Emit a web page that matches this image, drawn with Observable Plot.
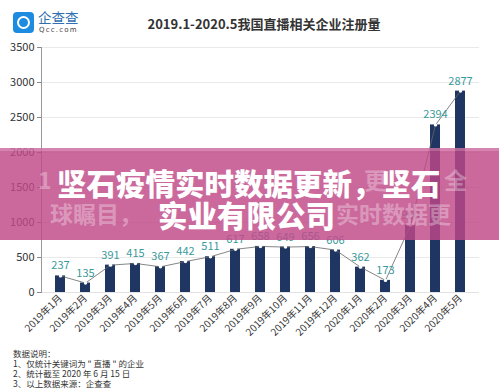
<!DOCTYPE html>
<html><head><meta charset="utf-8">
<script src="https://cdn.jsdelivr.net/npm/d3@7"></script>
<script src="https://cdn.jsdelivr.net/npm/@observablehq/plot@0.6"></script>
<style>
body{margin:0;background:#fff;font-family:"Noto Sans CJK SC","Noto Sans",sans-serif;}
#wrap{position:relative;width:499px;height:392px;overflow:hidden;background:#fff;}
#chart{position:absolute;left:0;top:0;}
#logoBox{position:absolute;left:13px;top:12px;width:21px;height:21px;border-radius:4px;background:#1d8ce0;}
#logoRing{position:absolute;left:4px;top:4px;width:9px;height:9px;border:2.5px solid #fff;border-radius:50%;}
#logoTxt{position:absolute;left:38px;top:9px;font-size:13.5px;color:#2f6fb0;letter-spacing:0px;line-height:17px;}
#logoSub{position:absolute;left:39px;top:26px;font-size:7px;color:#444;letter-spacing:1.2px;line-height:8px;font-family:"DejaVu Sans",sans-serif;}
#title{position:absolute;left:0;width:528px;top:15px;text-align:center;font-size:13px;font-weight:bold;color:#333;line-height:18px;}
#notes{position:absolute;left:13px;top:348px;font-size:8.5px;line-height:10px;color:#333;}
#banner{position:absolute;left:0;top:148px;width:499px;height:92px;background:rgba(192,72,136,0.82);}
#bannerTop{position:absolute;left:0;top:0;width:499px;height:3px;background:rgba(255,255,255,0.18);}
.faint{position:absolute;white-space:nowrap;font-weight:bold;color:rgba(255,255,255,0.32);font-size:23px;line-height:26px;}
.main{position:absolute;white-space:nowrap;font-weight:900;color:#fff;font-size:29.5px;line-height:32px;}
</style></head><body>
<div id="wrap">
  <div id="chart"></div>
  <div id="logoBox"><div id="logoRing"></div></div>
  <div id="logoTxt">企查查</div>
  <div id="logoSub">Qcc.com</div>
  <div id="title">2019.1-2020.5我国直播相关企业注册量</div>
  <div id="notes">数据说明：<br>1、仅统计关键词为 " 直播 " 的企业<br>2、统计截至 2020 年 6 月 15 日<br>3、以上数据来源：企查查</div>
  <div id="banner">
    <div id="bannerTop"></div>
    <div class="faint" style="left:38px;top:18px;">1</div>
    <div class="faint" style="left:364px;top:18px;">更</div>
    <div class="faint" style="left:444px;top:18px;">全</div>
    <div class="faint" style="left:50px;top:52px;">球瞩目，</div>
    <div class="faint" style="left:336px;top:52px;">实时数据更</div>
    <div class="main" style="left:57px;top:18px;">坚石疫情实时数据更新，坚石</div>
    <div class="main" style="left:158px;top:50px;">实业有限公司</div>
  </div>
</div>
<script>
const months = ["2019年1月","2019年2月","2019年3月","2019年4月","2019年5月","2019年6月","2019年7月","2019年8月","2019年9月","2019年10月","2019年11月","2019年12月","2020年1月","2020年2月","2020年3月","2020年4月","2020年5月"];
const values = [237,135,391,415,367,442,511,617,658,649,656,606,362,173,960,2394,2877];
const yTicks = [0,500,1000,1500,2000,2500,3000,3500];

const data = months.map((m,i)=>({month:m, value:values[i]}));

const chart = Plot.plot({
  width: 499,
  height: 392,
  marginTop: 47,
  marginBottom: 100,
  marginLeft: 41,
  marginRight: 20,
  style: {fontFamily: '"Noto Sans CJK SC","Noto Sans",sans-serif', background: "transparent"},
  x: {type: "band", domain: months, paddingInner: 0.61, paddingOuter: 0.31, label: null},
  y: {domain: [0, 3500], label: null},
  marks: [
    Plot.gridY(yTicks, {stroke: "#e9e9e9", strokeOpacity: 1}),
    Plot.ruleY([0], {stroke: "#e2e2e2"}),
    Plot.barY(data, {x: "month", y: "value", fill: "#1f3663"}),
    Plot.line(data, {x: "month", y: "value", stroke: "#666", strokeWidth: 0.8}),
    Plot.dot(data, {x: "month", y: "value", r: 1.7, fill: "#fff", stroke: null}),
    Plot.text(data, {x: "month", y: "value", text: d => String(d.value), dy: -10, fill: "#3a9a9b", fontSize: 11}),
    Plot.axisY({ticks: yTicks, tickFormat: d => String(d), tickSize: 4, tickPadding: 3, fontSize: 11, color: "#333", stroke: "#888"}),
    Plot.frame({anchor: "left", stroke: "#999"}),
    Plot.axisX({tickRotate: -45, tickSize: 0, tickPadding: 4, fontSize: 10, color: "#333"})
  ]
});
document.getElementById("chart").appendChild(chart);
</script>
</body></html>
